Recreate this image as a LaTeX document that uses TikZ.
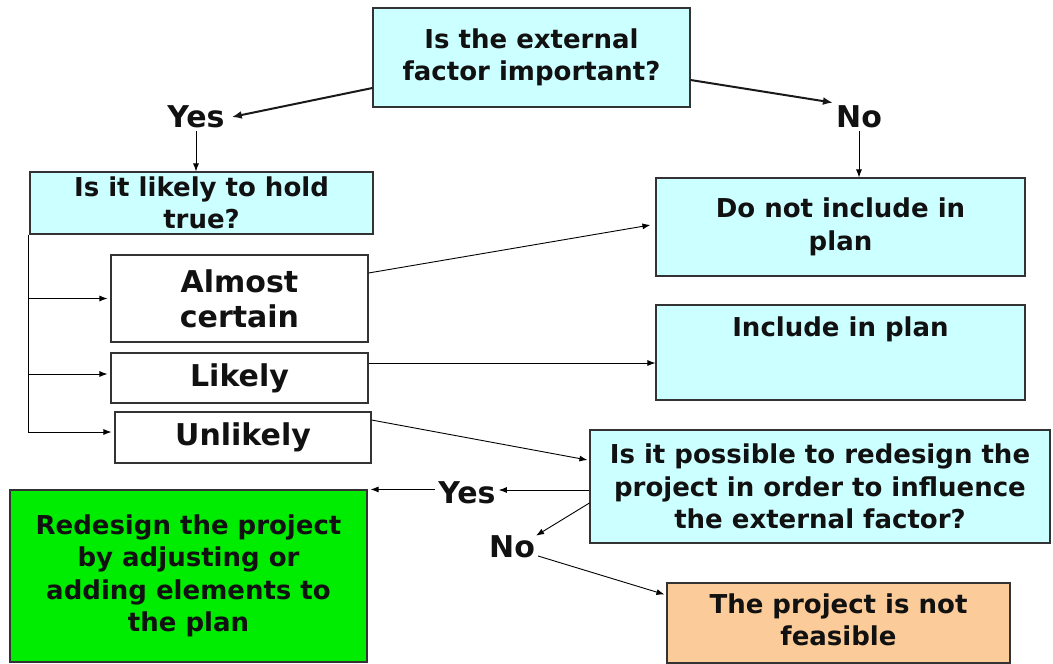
\documentclass[tikz,border=0pt]{standalone}
\usepackage{fontspec}
\setmainfont{DejaVu Sans}
\usetikzlibrary{arrows.meta}
\definecolor{lcyan}{RGB}{204,255,255}
\definecolor{lgreen}{RGB}{0,236,0}
\definecolor{lorange}{RGB}{251,204,153}
\definecolor{txt}{RGB}{17,17,17}
\begin{document}
\begin{tikzpicture}[x=1pt,y=-1pt,
  box/.style={draw=black!80, line width=1.1pt, inner sep=0pt, align=center, text=txt,
    font=\fontsize{26}{32.5}\selectfont\bfseries},
  bigbox/.style={box, font=\fontsize{30}{35}\selectfont\bfseries},
  lab/.style={inner sep=3pt, text=txt, font=\fontsize{30}{35}\selectfont\bfseries},
  arr/.style={draw=black, line width=0.9pt, -{Latex[length=8pt,width=6pt]}},
  tarr/.style={draw=black!90, line width=2pt, -{Latex[length=10pt,width=8pt]}},
  ln/.style={draw=black, line width=0.9pt}]
\useasboundingbox (0,0) rectangle (1053,664);

% boxes
\node[box, fill=lcyan, minimum width=317pt, minimum height=99pt] (q1) at (531.5,57.5) {Is the external\\factor important?};
\node[box, fill=lcyan, minimum width=343pt, minimum height=62pt] (q2) at (201.5,203) {Is it likely to hold\\true?};
\node[box, fill=lcyan, minimum width=369pt, minimum height=98pt] (dni) at (840.5,227) {Do not include in\\plan};
\node[bigbox, fill=white, minimum width=257pt, minimum height=87pt] (ac) at (239.5,298.5) {Almost\\certain};
\node[bigbox, fill=white, minimum width=257pt, minimum height=50pt] (lk) at (239.5,378) {Likely};
\node[bigbox, fill=white, minimum width=256pt, minimum height=51pt] (ul) at (243,437.5) {Unlikely};
\node[box, fill=lcyan, minimum width=369pt, text height=31pt, text depth=64pt] (inc) at (840.5,352.5) {Include in plan};
\node[box, fill=lcyan, minimum width=460pt, minimum height=113pt] (q3) at (820,486.5) {Is it possible to redesign the\\project in order to influence\\the external factor?};
\node[box, fill=lgreen, minimum width=357pt, minimum height=172pt] (green) at (188.5,576) {Redesign the project\\by adjusting or\\adding elements to\\the plan};
\node[box, fill=lorange, minimum width=343pt, minimum height=80pt] (orange) at (838.5,623) {\raisebox{6pt}{\begin{tabular}{@{}c@{}}The project is not\\feasible\end{tabular}}};

% labels
\node[lab] (yes1) at (196,117) {Yes};
\node[lab] (no1) at (859,117) {No};
\node[lab] (yes2) at (467,493) {Yes};
\node[lab] (no2) at (512,547) {No};

% connectors
\draw[tarr] ([yshift=-30.5pt]q1.west) -- ([xshift=4pt]yes1.east);
\draw[tarr] ([yshift=-22.5pt]q1.east) -- (no1.north west);
\draw[arr] (yes1.south) -- (yes1.south |- q2.north);
\draw[arr] (no1.south) -- (no1.south |- dni.north);

\coordinate (vb) at ([xshift=-1pt]q2.south west);
\coordinate (acw) at ([xshift=-3pt]ac.west);
\coordinate (lkw) at ([xshift=-3pt,yshift=4pt]lk.west);
\coordinate (ulw) at ([xshift=-3pt,yshift=5.5pt]ul.west);
\draw[ln] (vb) -- (vb |- ulw);
\draw[arr] (vb |- acw) -- (acw);
\draw[arr] (vb |- lkw) -- (lkw);
\draw[arr] (vb |- ulw) -- (ulw);

\draw[arr] ([yshift=25.5pt]ac.east) -- ([xshift=-5pt,yshift=2pt]dni.west);
\coordinate (lke) at ([yshift=15pt]lk.east);
\draw[arr] (lke) -- (lke -| inc.west);
\draw[arr] ([yshift=17.5pt]ul.east) -- ([xshift=-2pt,yshift=26.5pt]q3.west);

\coordinate (q3y) at ([yshift=-3.5pt]q3.west);
\draw[arr] (q3y) -- (q3y -| yes2.east);
\draw[arr] (yes2.west |- green.north) -- ([xshift=3pt]green.north east);
\draw[arr] ([yshift=-16.5pt]q3.west) -- ([xshift=-2pt,yshift=-3pt]no2.north east);
\draw[arr] ([yshift=-9pt]no2.east) -- ([xshift=-2pt,yshift=-12pt]orange.north west);
\end{tikzpicture}
\end{document}
